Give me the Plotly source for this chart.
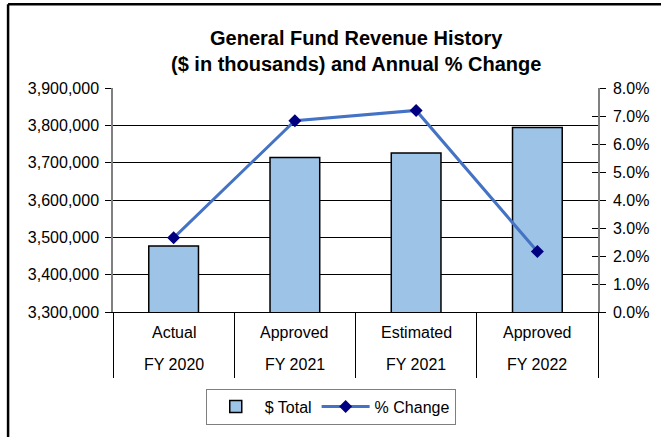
import plotly.graph_objects as go

# ---- data ----
top_labels = ["Actual", "Approved", "Estimated", "Approved"]
bottom_labels = ["FY 2020", "FY 2021", "FY 2021", "FY 2022"]
categories = [f"{a} {b}" for a, b in zip(top_labels, bottom_labels)]
total_values = [3477000, 3714000, 3726000, 3794000]
pct_change = [0.0265, 0.0683, 0.0720, 0.0216]
left_ticks = [3300000, 3400000, 3500000, 3600000, 3700000, 3800000, 3900000]
right_ticks = [0.00, 0.01, 0.02, 0.03, 0.04, 0.05, 0.06, 0.07, 0.08]

FONT = "Liberation Sans, Arial, sans-serif"
W, H = 661, 437
ML, MR, MT, MB = 113, 58, 88, 124
PW, PH = W - ML - MR, H - MT - MB


def px_x(px):
    return (px - ML) / PW


def px_y(py):
    return (H - MB - py) / PH


fig = go.Figure()
fig.add_trace(go.Bar(
    x=categories, y=total_values, name="$ Total",
    marker=dict(color="#9DC3E6", line=dict(color="#000000", width=1.5)),
    width=0.41, yaxis="y",
))
fig.add_trace(go.Scatter(
    x=categories, y=pct_change, name="% Change", mode="lines+markers",
    line=dict(color="#4472C4", width=3),
    marker=dict(symbol="diamond", size=10, color="#000080"),
    yaxis="y2",
))
# invisible helper trace so the inner tick marks of the right axis are drawn
fig.add_trace(go.Scatter(
    x=categories, y=pct_change, mode="lines", line=dict(width=0),
    opacity=0, showlegend=False, hoverinfo="skip", yaxis="y3",
))

annotations = [
    dict(text="<b>General Fund Revenue History<br>($ in thousands) and Annual % Change</b>",
         xref="paper", yref="paper", x=0.5, y=px_y(50.5), xanchor="center",
         yanchor="middle", showarrow=False, font=dict(size=20, family=FONT, color="#000000")),
]
for c, t, b in zip(categories, top_labels, bottom_labels):
    annotations.append(dict(text=t, xref="x", yref="paper", x=c, y=px_y(333.5),
                            xanchor="center", yanchor="middle", showarrow=False,
                            font=dict(size=16, family=FONT, color="#000000")))
    annotations.append(dict(text=b, xref="x", yref="paper", x=c, y=px_y(366),
                            xanchor="center", yanchor="middle", showarrow=False,
                            font=dict(size=16, family=FONT, color="#000000")))

shapes = [
    dict(type="line", xref="paper", yref="paper", x0=px_x(7), x1=px_x(680),
         y0=px_y(4), y1=px_y(4), line=dict(color="#000000", width=2.5)),
    dict(type="line", xref="paper", yref="paper", x0=px_x(7), x1=px_x(7),
         y0=px_y(4), y1=px_y(460), line=dict(color="#000000", width=2.5)),
]

fig.update_layout(
    width=W, height=H,
    margin=dict(l=ML, r=MR, t=MT, b=MB, pad=0),
    paper_bgcolor="#ffffff", plot_bgcolor="#ffffff",
    font=dict(family=FONT, size=16, color="#000000"),
    showlegend=True,
    legend=dict(orientation="h", x=px_x(333), xanchor="center", y=px_y(390), yanchor="top",
                bordercolor="#7f7f7f", borderwidth=1, font=dict(size=16, family=FONT),
                itemwidth=48, traceorder="normal", bgcolor="#ffffff"),
    xaxis=dict(type="category", range=[-0.5, 3.5], showline=True, linecolor="#000000",
               linewidth=1, ticks="outside", tickson="boundaries", ticklen=65,
               tickcolor="#000000", tickwidth=1, showticklabels=False, showgrid=False,
               zeroline=False),
    yaxis=dict(range=[3300000, 3900000], tickvals=left_ticks, tickformat=",",
               showgrid=True, gridcolor="#000000", gridwidth=1, showline=True,
               linecolor="#808080", linewidth=1.5, ticks="outside", ticklen=6,
               tickcolor="#000000", zeroline=False, ticklabelstandoff=3,
               tickfont=dict(size=16, family=FONT)),
    yaxis2=dict(range=[0, 0.08], tickvals=right_ticks, tickformat=".1%",
                overlaying="y", side="right", showgrid=False, showline=True,
                linecolor="#808080", linewidth=1.5, ticks="outside", ticklen=6,
                tickcolor="#000000", zeroline=False, ticklabelstandoff=4,
                tickfont=dict(size=16, family=FONT)),
    yaxis3=dict(range=[0, 0.08], tickvals=right_ticks, overlaying="y", side="right",
                showgrid=False, showline=False, ticks="inside", ticklen=6,
                tickcolor="#000000", showticklabels=False, zeroline=False),
    annotations=annotations,
    shapes=shapes,
    bargap=0.59,
)

fig.write_html(
    "out.html",
    config={"displayModeBar": False},
    post_script="document.body.style.margin='0';document.body.style.overflow='hidden';",
)
